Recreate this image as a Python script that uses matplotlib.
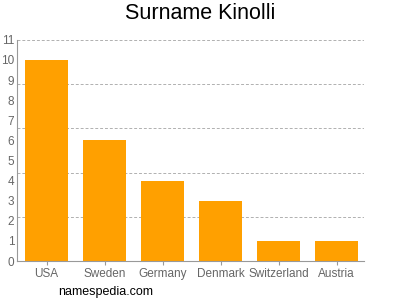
import matplotlib
matplotlib.use("Agg")
import matplotlib.pyplot as plt

plt.rcParams["font.family"] = ["Liberation Sans", "DejaVu Sans"]

countries = ["USA", "Sweden", "Germany", "Denmark", "Switzerland", "Austria"]
counts = [10, 6, 4, 3, 1, 1]
grid_levels = [2.2, 4.4, 6.6, 8.8, 11]

fig = plt.figure(figsize=(4, 3), dpi=100)
ax = fig.add_axes([0.0425, 0.13, 0.8675, 0.737])

ax.bar(range(len(countries)), counts, width=0.74, color="#FFA000", zorder=2)
for g in grid_levels:
    ax.axhline(g, color="#b0b0b0", lw=0.7, ls=(0, (3, 2)), zorder=1)

ax.set_xlim(-0.51, 5.47)
ax.set_ylim(0, 11)
ax.set_yticks(range(12))
ax.set_xticks(range(len(countries)))
ax.set_xticklabels(countries)
ax.tick_params(axis="both", colors="#999999", labelcolor="#666666", labelsize=8.5,
               length=3, width=0.8)
ax.tick_params(axis="y", length=0, pad=2)
ax.tick_params(axis="x", pad=2)
for s in ["top", "right"]:
    ax.spines[s].set_visible(False)
for s in ["left", "bottom"]:
    ax.spines[s].set_color("#999999")
    ax.spines[s].set_linewidth(0.8)

fig.text(0.5, 0.955, "Surname Kinolli", ha="center", va="center", fontsize=15.5)
fig.text(0.145, 0.027, "namespedia.com", ha="left", va="center", fontsize=9)

fig.savefig("out.png", dpi=100)
